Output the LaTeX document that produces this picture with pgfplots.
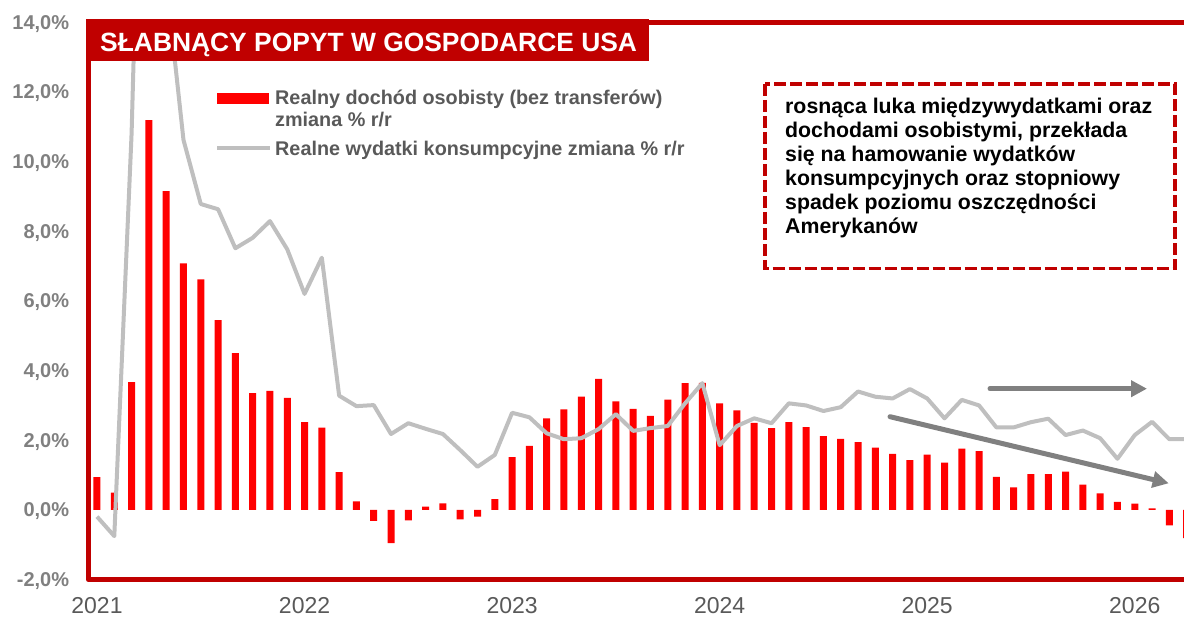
\documentclass[border=0pt]{standalone}
\usepackage{pgfplots}
\pgfplotsset{compat=1.18}
\usepackage{pgfplotstable}
\usepackage{fontspec}
\setmainfont{Liberation Sans}
\usetikzlibrary{arrows.meta}
\definecolor{framecol}{HTML}{C00000}
\definecolor{barcol}{HTML}{FF0000}
\definecolor{linecol}{HTML}{BFBFBF}
\definecolor{arrowcol}{HTML}{808080}
\definecolor{ticky}{HTML}{808080}
\definecolor{tickx}{HTML}{595959}
\definecolor{legtext}{HTML}{595959}

\pgfplotstableread{
i v
0 0.94
1 0.50
2 3.67
3 11.19
4 9.15
5 7.08
6 6.62
7 5.45
8 4.50
9 3.35
10 3.42
11 3.22
12 2.52
13 2.36
14 1.09
15 0.25
16 -0.31
17 -0.95
18 -0.30
19 0.10
20 0.19
21 -0.27
22 -0.19
23 0.31
24 1.52
25 1.84
26 2.63
27 2.89
28 3.25
29 3.76
30 3.12
31 2.90
32 2.70
33 3.17
34 3.64
35 3.65
36 3.06
37 2.86
38 2.50
39 2.35
40 2.52
41 2.38
42 2.12
43 2.04
44 1.95
45 1.79
46 1.61
47 1.43
48 1.59
49 1.36
50 1.76
51 1.69
52 0.95
53 0.65
54 1.03
55 1.03
56 1.10
57 0.73
58 0.48
59 0.23
60 0.18
61 0.05
62 -0.44
63 -0.81
}\incomedata

\pgfplotstableread{
i v
0 -0.19
1 -0.75
2 10.8
3 29.0
4 15.2
5 10.62
6 8.78
7 8.63
8 7.51
9 7.81
10 8.29
11 7.48
12 6.20
13 7.24
14 3.28
15 2.98
16 3.01
17 2.18
18 2.49
19 2.33
20 2.18
21 1.72
22 1.24
23 1.58
24 2.79
25 2.66
26 2.20
27 2.03
28 2.06
29 2.32
30 2.75
31 2.27
32 2.35
33 2.41
34 3.06
35 3.64
36 1.86
37 2.41
38 2.63
39 2.49
40 3.06
41 3.00
42 2.84
43 2.95
44 3.40
45 3.25
46 3.20
47 3.47
48 3.20
49 2.63
50 3.16
51 3.00
52 2.37
53 2.37
54 2.52
55 2.62
56 2.15
57 2.28
58 2.06
59 1.47
60 2.15
61 2.53
62 2.03
63 2.03
}\spenddata

\begin{document}
\begin{tikzpicture}[x=1pt,y=1pt]
\begin{axis}[
  name=ax,
  at={(88.35pt,37.3pt)}, anchor=south west,
  scale only axis, width=1095.65pt, height=557.6pt,
  xmin=-0.5, xmax=62.85, ymin=-2, ymax=14,
  axis x line*=bottom, axis y line*=left,
  axis line style={draw=none},
  major tick length=0pt,
  xtick={0,12,24,36,48,60},
  xticklabels={2021,2022,2023,2024,2025,2026},
  ytick={-2,0,2,4,6,8,10,12,14},
  yticklabels={{-2,0\%},{0,0\%},{2,0\%},{4,0\%},{6,0\%},{8,0\%},{10,0\%},{12,0\%},{14,0\%}},
  xticklabel style={anchor=base, inner sep=0pt, yshift=-33.5pt, text=tickx, font=\fontsize{23}{27}\selectfont},
  yticklabel style={anchor=base east, inner sep=0pt, xshift=-19pt, yshift=-7pt, text=ticky, font=\bfseries\fontsize{20}{24}\selectfont},
  clip=true,
]
\addplot[ybar, bar width=7pt, fill=barcol, draw=none] table[x=i, y=v] {\incomedata};
\addplot[sharp plot, color=linecol, line width=4pt, line join=round, mark=none] table[x=i, y=v] {\spenddata};
\end{axis}
% frame
\draw[framecol, line width=5pt, line join=round] ([xshift=20pt]ax.north east) -- (ax.north west) -- (ax.south west) -- ([xshift=20pt]ax.south east);
% title box
\fill[framecol] (86,597.5) rectangle (649,556.3);
\node[anchor=base west, inner sep=0pt, text=white, font=\bfseries\fontsize{26.4}{30}\selectfont] at (100,565.3) {SŁABNĄCY POPYT W GOSPODARCE USA};
% legend
\fill[barcol] (217,523.7) rectangle (269,513);
\node[anchor=base west, inner sep=0pt, text=legtext, font=\bfseries\fontsize{19.8}{22}\selectfont] at (275,512) {Realny dochód osobisty (bez transferów)};
\node[anchor=base west, inner sep=0pt, text=legtext, font=\bfseries\fontsize{19.8}{22}\selectfont] at (275,490.3) {zmiana \% r/r};
\draw[linecol, line width=4pt] (217,468.7) -- (270,468.7);
\node[anchor=base west, inner sep=0pt, text=legtext, font=\bfseries\fontsize{19.8}{22}\selectfont] at (275,461) {Realne wydatki konsumpcyjne zmiana \% r/r};
% annotation
\draw[framecol, line width=3.5pt, dash pattern=on 12pt off 4pt] (765,533) rectangle (1175,348.7);
\begin{scope}[every node/.style={anchor=base west, inner sep=0pt, text=black, font=\bfseries\fontsize{21.3}{24}\selectfont}]
\node at (785,503.7) {rosnąca luka międzywydatkami oraz};
\node at (785,479.7) {dochodami osobistymi, przekłada};
\node at (785,455.7) {się na hamowanie wydatków};
\node at (785,431.7) {konsumpcyjnych oraz stopniowy};
\node at (785,407.7) {spadek poziomu oszczędności};
\node at (785,383.7) {Amerykanów};
\end{scope}
% arrows
\draw[arrowcol, line width=5pt, line cap=round, -{Triangle[length=16pt, width=16pt]}] (990,228.3) -- (1147,228.3);
\draw[arrowcol, line width=5pt, line cap=round, -{Triangle[length=16pt, width=16pt]}] (890,200.3) -- (1168.7,133.7);
\pgfresetboundingbox
\useasboundingbox (0,0) rectangle (1184,617);
\end{tikzpicture}
\end{document}
